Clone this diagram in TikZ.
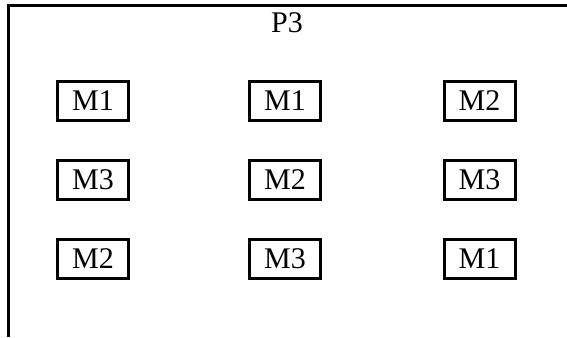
\documentclass[tikz,border=0pt]{standalone}
\usepackage{fontspec}
\setmainfont{Liberation Serif}

\begin{document}
\begin{tikzpicture}[x=1pt, y=-1pt]
  \tikzstyle{every node}=[font=\fontsize{30}{33}\selectfont]
  \tikzstyle{machine}=[draw, line width=3pt, minimum width=71pt, minimum height=39pt, inner sep=0pt]
  \useasboundingbox (0, 0) rectangle (567, 337);

  \draw[line width=3pt] (567, 5.5) -- (8.5, 5.5) -- (8.5, 337);
    \node (p3) at (287, 23) {P3};

  \node[machine] (m11) at (93, 101) {M1};
  \node[machine] (m12) at (285, 101) {M1};
  \node[machine] (m13) at (479.5, 101) {M2};

  \node[machine] (m21) at (93, 179.5) {M3};
  \node[machine] (m22) at (285, 179.5) {M2};
  \node[machine] (m23) at (479.5, 179.5) {M3};

  \node[machine] (m31) at (93, 259) {M2};
  \node[machine] (m32) at (285, 259) {M3};
  \node[machine] (m33) at (479.5, 259) {M1};

\end{tikzpicture}
\end{document}
